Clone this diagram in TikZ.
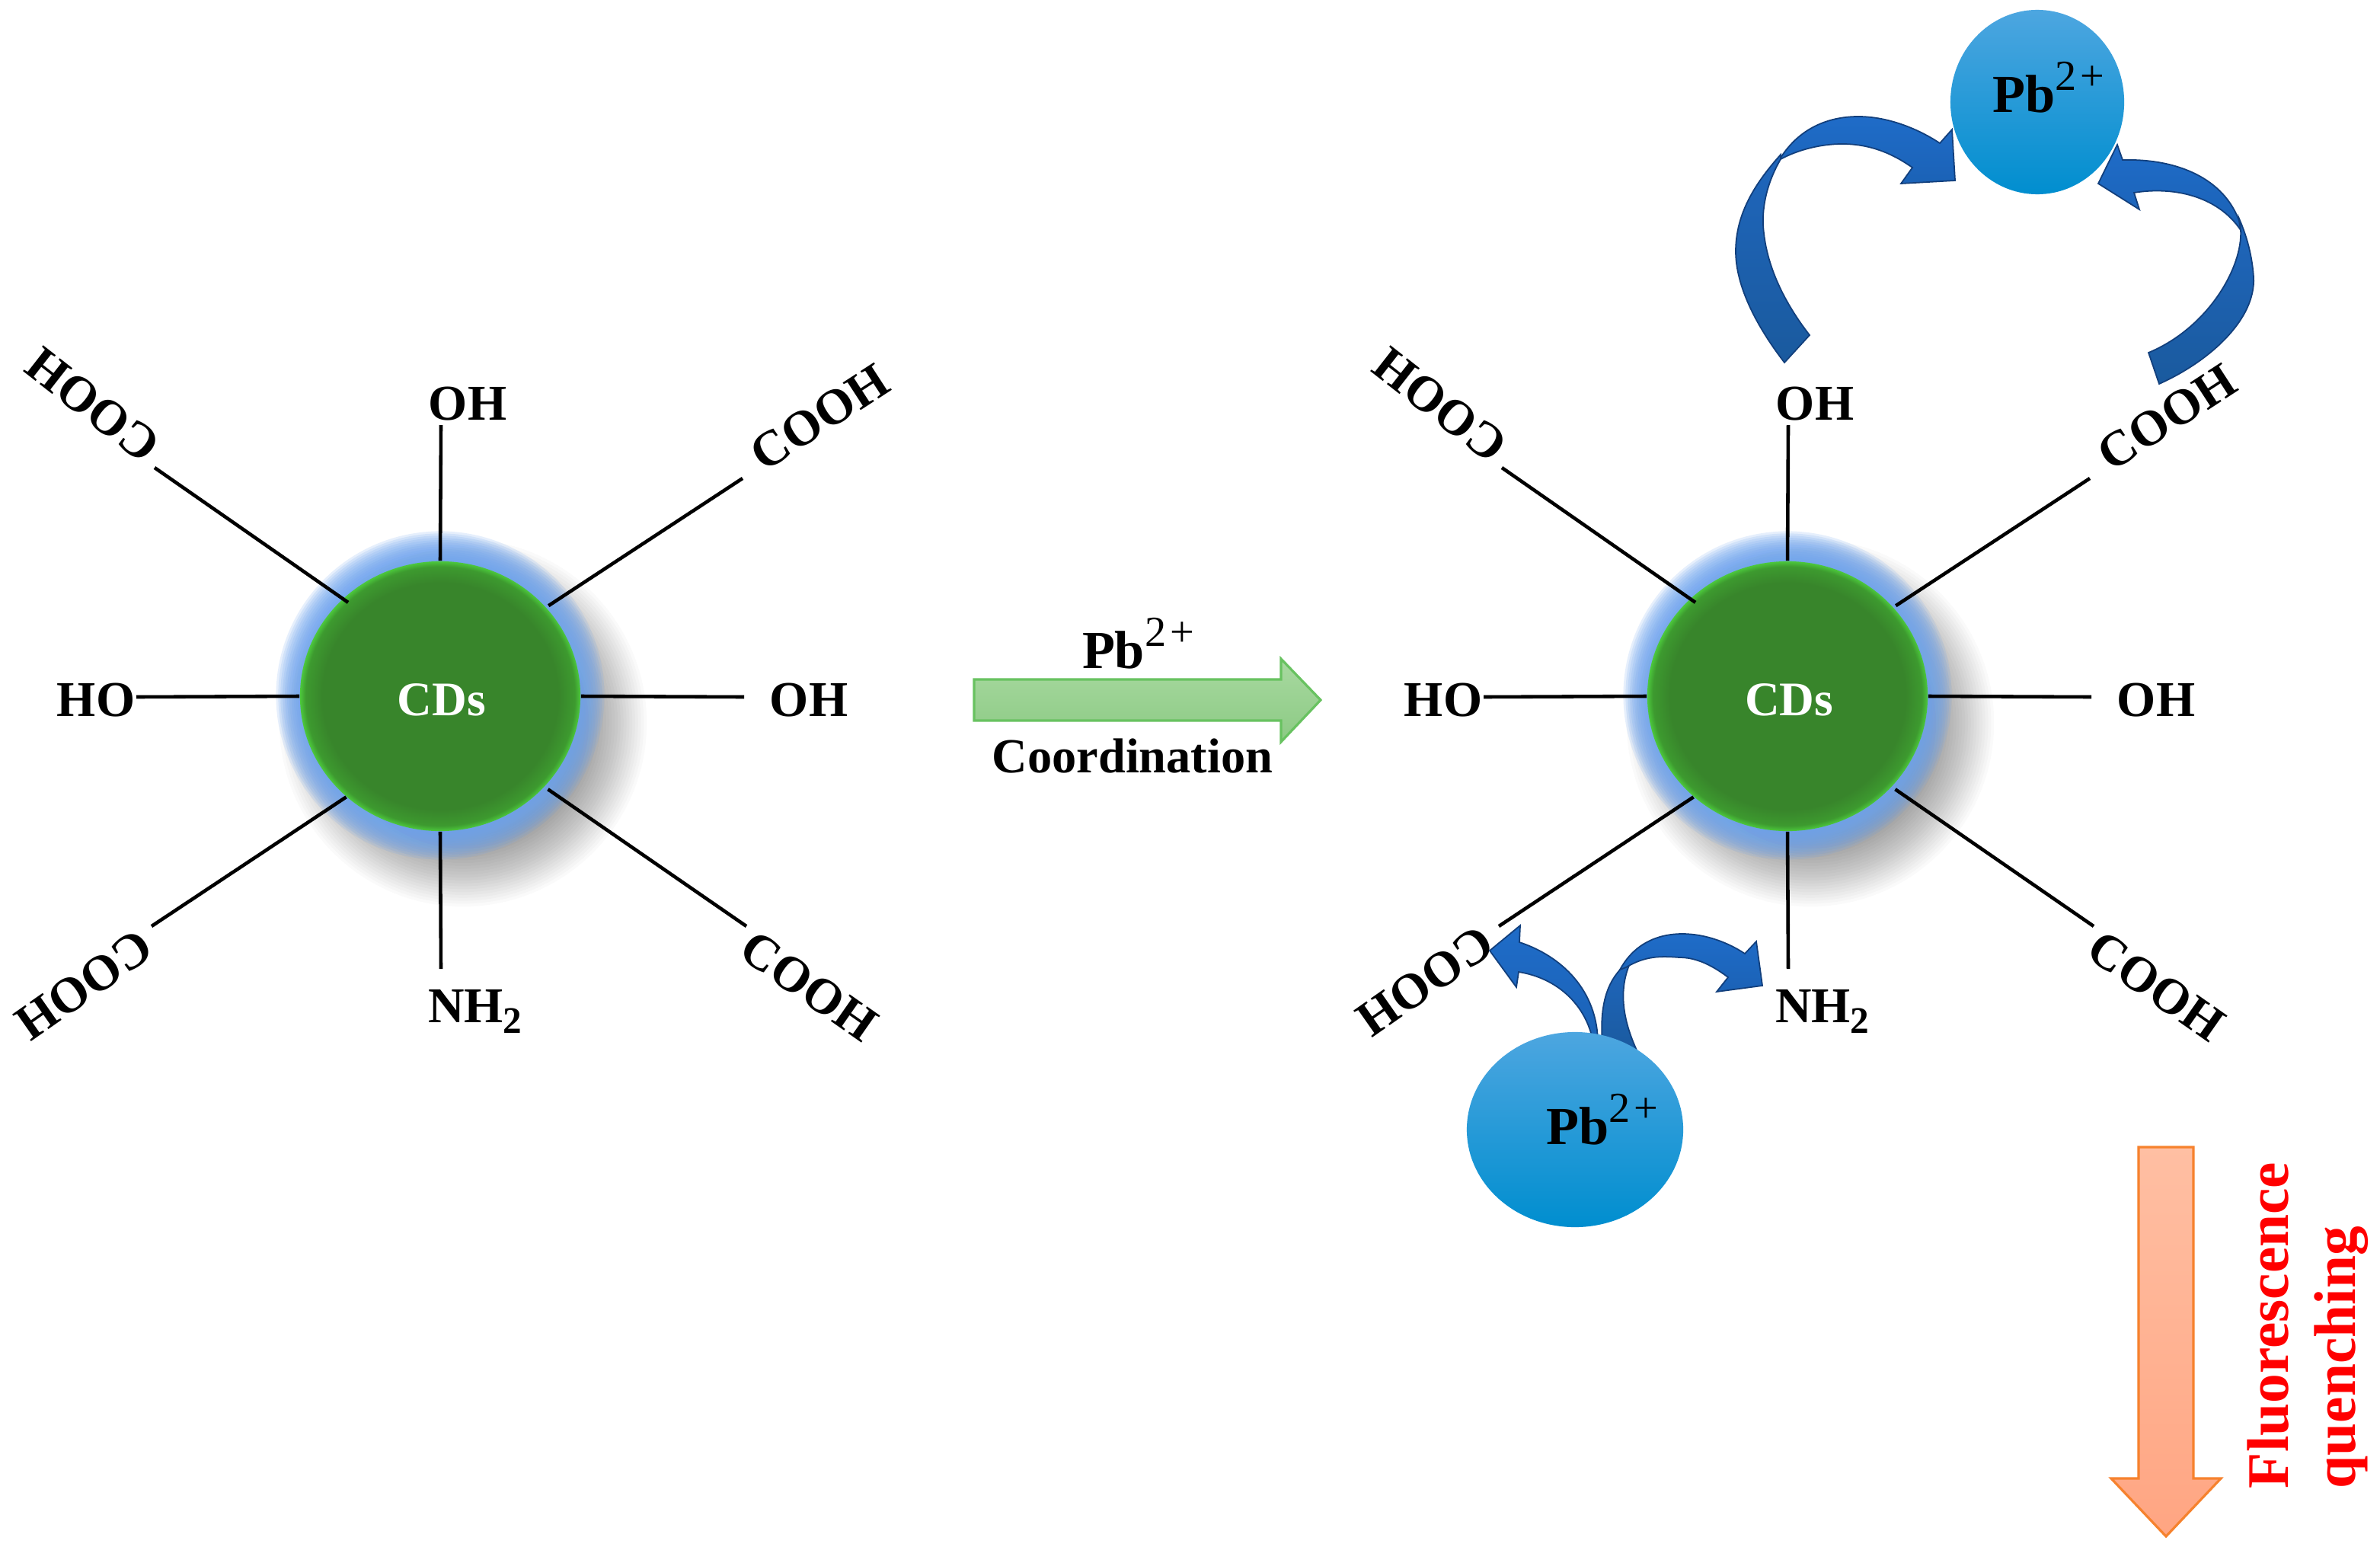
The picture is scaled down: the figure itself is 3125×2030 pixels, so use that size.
\documentclass[tikz,border=0pt]{standalone}
\usepackage{fontspec}
\setmainfont{Liberation Serif}
\usetikzlibrary{shapes.geometric}
\definecolor{cdgreen}{HTML}{38852B}
\definecolor{cdmid}{HTML}{3D9A2F}
\definecolor{cdrim}{HTML}{4CC83C}
\definecolor{halo}{HTML}{6FA5F0}
\definecolor{ribline}{HTML}{123F7C}
\definecolor{ribtop}{HTML}{1F6CC8}
\definecolor{ribbot}{HTML}{1B62B6}
\definecolor{foldtop}{HTML}{1F66BC}
\definecolor{foldbot}{HTML}{1A5A9E}
\pgfdeclareradialshading{cdshade}{\pgfpoint{0bp}{0bp}}{%
  color(0bp)=(cdgreen); color(21bp)=(cdgreen); color(24bp)=(cdmid); color(25bp)=(cdrim); color(50bp)=(cdrim)}
\newcommand{\lab}{\bfseries\fontsize{18.7}{22}\selectfont}
\newcommand{\pbion}{\fontsize{20}{22}\selectfont Pb\raisebox{8pt}{\fontsize{16}{16}\selectfont\mdseries 2\kern1.5pt+}}
\tikzset{
  x=0.01cm, y=-0.01cm,
  label text/.style={font=\lab, inner sep=0pt, outer sep=0pt},
  spoke/.style={line width=1.3pt, black},
  core/.style={ellipse, minimum width=3.68cm, minimum height=3.54cm, inner sep=0pt, shading=cdshade, text=white, font=\bfseries\fontsize{18}{20}\selectfont},
  ball/.style={ellipse, inner sep=0pt, top color=ballA, middle color=ballB, bottom color=ballC},
  folded/.style={draw=ribline, line width=0.5pt, top color=foldtop, bottom color=foldbot},
  ribbon/.style={draw=ribline, line width=0.5pt, top color=ribtop, bottom color=ribbot},
  greenarrow/.style={draw=arrowgreen, line width=0.9pt, top color=greenA, bottom color=greenB},
  orangearrow/.style={draw=arroworange, line width=0.9pt, top color=orangeA, bottom color=orangeB},
  quench/.style={font=\bfseries\fontsize{22}{24}\selectfont, text=red, inner sep=0pt, outer sep=0pt, rotate=90, anchor=base west}
}
\definecolor{ballA}{HTML}{4DA6E0}
\definecolor{ballB}{HTML}{0C9EDF}
\definecolor{ballC}{HTML}{008ECF}
\definecolor{arrowgreen}{HTML}{68C260}
\definecolor{greenA}{HTML}{A8D9A0}
\definecolor{greenB}{HTML}{8CCA84}
\definecolor{arroworange}{HTML}{F6822E}
\definecolor{orangeA}{HTML}{FFBFA3}
\definecolor{orangeB}{HTML}{FFA582}
\begin{document}
\begin{tikzpicture}
\useasboundingbox (0,0) rectangle (3125,2030);
\fill[white] (0,0) rectangle (3125,2030);

\foreach \g/\dx/\ox/\oy in {L/0/0/0,R/1769/-8/-5}{
\begin{scope}[shift={(\dx,0)}, name prefix=\g-]
  \foreach \i in {0,...,24}{
    \pgfmathsetmacro{\rr}{150+\i*3.8}
    \fill[black,opacity=0.021] (608,949) ellipse [x radius=\rr, y radius=\rr];
  }
  \foreach \i in {0,...,14}{
    \pgfmathsetmacro{\rr}{175+\i*2.9}
    \fill[halo,opacity=0.17] (578,913) ellipse [x radius=\rr, y radius=\rr];
  }
  \node[core] (core) at (578,914) {};
  \node[font=\bfseries\fontsize{18}{20}\selectfont, text=white, inner sep=0pt, anchor=base] (cdt) at (580,939) {CDs};
  \coordinate (eN) at (579,558);
  \coordinate (eS) at (579,1272);
  \coordinate (eW) at (179,915);
  \coordinate (eE) at (977,915);
  \coordinate (eNW) at (203,614);
  \coordinate (eNE) at (975,628);
  \coordinate (eSW) at (199,1216);
  \coordinate (eSE) at (980,1216);
  \draw[spoke] (core.90) -- (eN);
  \draw[spoke] (core.270) -- (eS);
  \draw[spoke] (core.180) -- (eW);
  \draw[spoke] (core.0) -- (eE);
  \draw[spoke, shorten <=-2.5pt] (core.135) -- (eNW);
  \draw[spoke, shorten <=1pt] (core.40) -- (eNE);
  \draw[spoke] (core.227) -- (eSW);
  \draw[spoke, shorten <=1.5pt] (core.-41) -- (eSE);
  \node[label text] (tN) at (614,530) {OH};
  \node[label text] (tE) at (1062,919) {OH};
  \node[label text] (tW) at (126,919) {HO};
  \node[label text, anchor=base west] (tS) at (562,1342) {NH\raisebox{-4pt}{\fontsize{14}{14}\selectfont 2}};
  \node[label text, rotate=142] (tNW) at (122,532) {COOH};
  \node[label text, rotate=33] (tNE) at (1076,548) {COOH};
  \node[label text, rotate=215] (tSW) at (110+\ox,1293+\oy) {COOH};
  \node[label text, rotate=-35] (tSE) at (1062,1295) {COOH};
\end{scope}
}

% reaction arrow
\path[greenarrow] (1279,892) -- (1682,892) -- (1682,865) -- (1734,919) -- (1682,974) -- (1682,946) -- (1279,946) -- cycle;
\node[label text, anchor=base west] (pbarrow) at (1421,877) {\pbion};
\node[label text, anchor=base, font=\bfseries\fontsize{18.3}{22}\selectfont] (coord) at (1487,1014) {Coordination};

% OH to top ion
\path[folded] (2343,476) .. controls (2300,420) and (2279,370) .. (2279,330) .. controls (2279,280) and (2305,240) .. (2338,203) -- (2338,209) .. controls (2320,240) and (2314,270) .. (2315,295) .. controls (2318,350) and (2345,400) .. (2376,440) -- cycle;
\path[ribbon] (2338,207) .. controls (2365,165) and (2405,153) .. (2440,153) .. controls (2480,153) and (2520,170) .. (2547,188) -- (2563,170) -- (2567,237) -- (2496,241) -- (2511,220) .. controls (2480,198) and (2450,189) .. (2419,189) .. controls (2390,189) and (2360,197) .. (2338,209) -- cycle;
% COOH to top ion
\path[folded] (2835,504) .. controls (2900,475) and (2962,420) .. (2959,364) .. controls (2957,335) and (2950,310) .. (2940,287) -- (2942,302) .. controls (2945,350) and (2900,430) .. (2821,463) -- cycle;
\path[ribbon] (2940,290) .. controls (2920,235) and (2860,208) .. (2787,210) -- (2780,190) -- (2755,241) -- (2809,275) -- (2802,253) .. controls (2850,245) and (2910,255) .. (2942,302) -- cycle;
% bottom ion to COOH
\path[ribbon] (1956,1248) -- (1996,1215) -- (1995,1237) .. controls (2050,1255) and (2098,1300) .. (2098,1370) -- (2092,1370) .. controls (2085,1325) and (2050,1285) .. (1994,1276) -- (1991,1296) -- cycle;
% bottom ion to NH2
\path[folded] (2104,1370) .. controls (2100,1320) and (2110,1290) .. (2130,1270) -- (2140,1265) .. controls (2125,1300) and (2130,1340) .. (2152,1385) -- cycle;
\path[ribbon] (2127,1273) .. controls (2145,1240) and (2175,1226) .. (2209,1226) .. controls (2240,1226) and (2270,1238) .. (2291,1252) -- (2306,1236) -- (2314,1294) -- (2254,1302) -- (2269,1283) .. controls (2245,1265) and (2225,1257) .. (2205,1257) .. controls (2180,1255) and (2160,1255) .. (2135,1270) -- cycle;

% lead ions
\node[ball, minimum width=2.28cm, minimum height=2.42cm] (pbtop) at (2675,134) {};
\node[label text, anchor=base west] (pbtoptext) at (2616,147) {\pbion};
\node[ball, minimum width=2.84cm, minimum height=2.56cm] (pbbot) at (2068,1483) {};
\node[label text, anchor=base west] (pbbottext) at (2030,1502) {\pbion};

% quenching arrow
\path[orangearrow] (2808,1506) -- (2880,1506) -- (2880,1941) -- (2916,1941) -- (2844,2017) -- (2772,1941) -- (2808,1941) -- cycle;
\node[quench] (fl) at (3004,1954) {Fluorescence};
\node[quench] (qu) at (3092,1954) {quenching};
\end{tikzpicture}
\end{document}
